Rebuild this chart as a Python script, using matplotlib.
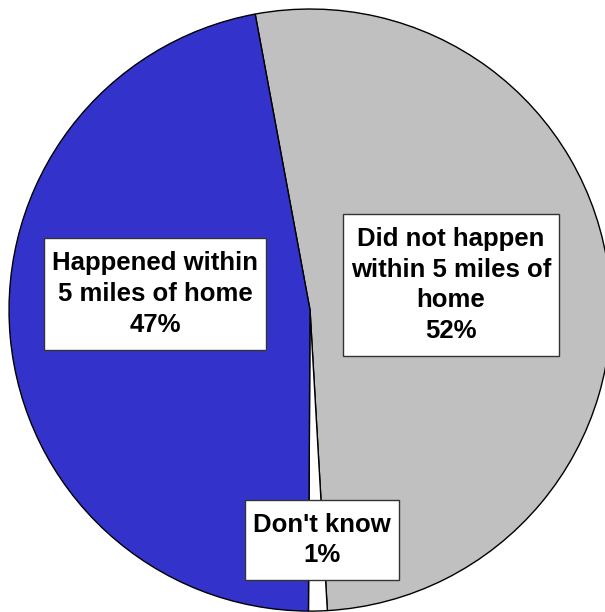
import matplotlib.pyplot as plt
from matplotlib.patches import Rectangle

# Données du camembert
categories = ["Did not happen\nwithin 5 miles of\nhome", "Don't know", "Happened within\n5 miles of home"]
valeurs = [52, 1, 47]
couleurs = ["#C0C0C0", "#FFFFFF", "#3333CC"]

plt.rcParams['font.family'] = ['Liberation Sans', 'DejaVu Sans']

fig = plt.figure(figsize=(6.05, 6.12), dpi=100)
ax = fig.add_axes([0, 0, 1, 1])

ax.pie(valeurs, colors=couleurs, startangle=100.5, counterclock=False,
       radius=1, wedgeprops=dict(edgecolor="black", linewidth=1.0))

ax.set_xlim(-1.030, 0.980)
ax.set_ylim(-1.003, 1.030)
ax.set_aspect("auto")
ax.axis("off")

# Position des étiquettes (coordonnées du graphique)
positions = [(0.468, 0.083), (0.040, -0.764), (-0.515, 0.053)]
textes = []
for nom, val, (x, y) in zip(categories, valeurs, positions):
    t = ax.text(x, y, f"{nom}\n{val}%", ha="center", va="center", fontsize=18.5,
                fontweight="bold", linespacing=1.36, zorder=5)
    textes.append(t)

# Cadres blancs autour des étiquettes (marge horizontale et verticale différentes)
fig.canvas.draw()
rend = fig.canvas.get_renderer()
pad_x, pad_y = 8, 13
inv = ax.transData.inverted()
for t in textes:
    bb = t.get_window_extent(rend)
    (x0, y0) = inv.transform((bb.x0 - pad_x, bb.y0 - pad_y))
    (x1, y1) = inv.transform((bb.x1 + pad_x, bb.y1 + pad_y))
    ax.add_patch(Rectangle((x0, y0), x1 - x0, y1 - y0, facecolor="white",
                           edgecolor="#333333", linewidth=1, zorder=4))

fig.savefig("out.png", dpi=100)
